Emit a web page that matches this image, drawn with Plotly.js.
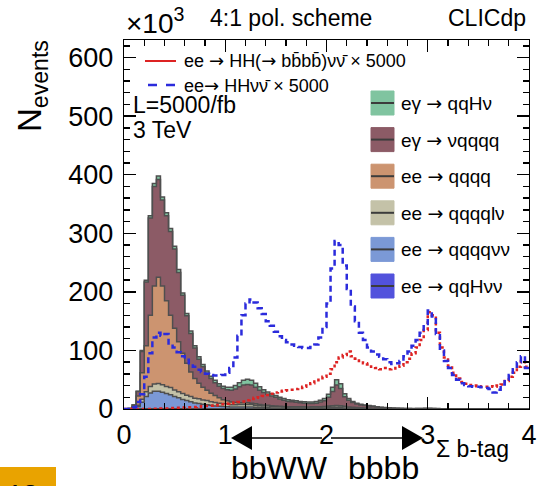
<!DOCTYPE html>
<html><head><meta charset="utf-8">
<script src="https://cdn.plot.ly/plotly-3.0.1.min.js"></script>
<style>html,body{margin:0;padding:0;background:#fff}#chart{width:543px;height:486px}</style>
</head><body><div id="chart"></div>
<script>
// bin edges of the Σ b-tag histogram
const binEdges = [0,0.04,0.08,0.12,0.16,0.2,0.24,0.28,0.32,0.36,0.4,0.44,0.48,0.52,0.56,0.6,0.64,0.68,0.72,0.76,0.8,0.84,0.88,0.92,0.96,1,1.04,1.08,1.12,1.16,1.2,1.24,1.28,1.32,1.36,1.4,1.44,1.48,1.52,1.56,1.6,1.64,1.68,1.72,1.76,1.8,1.84,1.88,1.92,1.96,2,2.04,2.08,2.12,2.16,2.2,2.24,2.28,2.32,2.36,2.4,2.44,2.48,2.52,2.56,2.6,2.64,2.68,2.72,2.76,2.8,2.84,2.88,2.92,2.96,3,3.04,3.08,3.12,3.16,3.2,3.24,3.28,3.32,3.36,3.4,3.44,3.48,3.52,3.56,3.6,3.64,3.68,3.72,3.76,3.8,3.84,3.88,3.92,3.96,4];

// stacked backgrounds (x10^3 events per bin), bottom to top
const eeQqHvv = [0,0,0,0.2,0.5,0.5,0.5,0.5,0.5,0.5, 0.5,0.5,0.4,0.4,0.4,0.3,0.3,0.3,0.3,0.3, 0.3,0.3,0.3,0.3,0.3,0.3,0.3,0.4,0.5,0.5, 0.5,0.5,0.4,0.4,0.3,0.3,0.3,0.3,0.3,0.3, 0.3,0.3,0.3,0.3,0.3,0.3,0.4,0.4,0.5,0.6, 0.8,1,1.2,1.1,0.8,0.6,0.5,0.4,0.3,0.3, 0.3,0.2,0.2,0.2,0.1,0.1,0.1,0.1,0.1,0.1, 0.1,0.1,0.1,0.1,0.2,0.2,0.1,0.1,0.1,0, 0,0,0,0,0,0,0,0,0,0, 0,0,0,0,0,0,0,0,0,0];
const eeQqqqvv = [0,0.5,1,4,11,21,27,30,30,28, 26,24,21,19,16,14,12,10,9,8, 7,6,5,4.5,4,3.5,3,3,3,3, 3,3,2.5,2,2,1.8,1.6,1.5,1.4,1.3, 1.2,1.1,1,1,1,1,1,1,1,1.1, 1.2,1.3,1.3,1.2,1,0.8,0.6,0.5,0.4,0.3, 0.3,0.2,0.2,0.2,0.1,0.1,0.1,0.1,0.1,0.1, 0,0,0,0,0,0,0,0,0,0, 0,0,0,0,0,0,0,0,0,0, 0,0,0,0,0,0,0,0,0,0];
const eeQqqqlv = [0,0,0.5,2,5,8,11,12,13,13, 12,12,11,10,10,9,9,8,8,7, 7,6,6,5,5,5,4,4,4,4, 4,4,3.5,3,3,3,2.5,2.5,2.5,2.2, 2,2,2,2,2,2,2,2,2.2,2.4, 2.8,3,3.2,3,2.5,2,1.6,1.3,1.1,1, 0.8,0.7,0.6,0.5,0.4,0.3,0.3,0.2,0.2,0.2, 0.2,0.2,0.2,0.2,0.2,0.2,0.2,0.1,0.1,0, 0,0,0,0,0,0,0,0,0,0, 0,0,0,0,0,0,0,0,0,0];
const eeQqqq = [0,0.5,2.5,16,45.5,78.5,121.5,167.5,181.5,168.5, 146.5,123.5,105.6,85.6,68.6,54.7,41.7,33.7,26.7,21.7, 17.7,14.7,11.7,9.2,6.7,5.2,4.7,3.6,3,3, 3,2.5,2.6,2.1,1.7,1.4,1.1,0.7,0.6,0.5, 0.5,0.5,0.5,0.4,0.4,0.3,0.3,0.3,0.3,0.3, 0.3,0.3,0.3,0.3,0.2,0.2,0.2,0.2,0.2,0.2, 0.2,0.2,0.1,0.1,0.1,0.1,0.1,0.1,0.1,0.1, 0.1,0,0,0,0,0,0,0,0,0, 0,0,0,0,0,0,0,0,0,0, 0,0,0,0,0,0,0,0,0,0];
const egVqqqq = [0,0,3,7.5,36,109,166,170,167,147, 145,143,135,118,99,81,66,52,41,35, 29,25,22,20,19,19,20,23,27.5,30.5, 31.5,31,28,24.5,21,18.5,16.5,15,12.2,10.7, 9,8.6,7.7,6.8,6.3,5.9,5.8,6.3,8,9.6, 14.9,24.4,35,29.4,16.5,11.4,8.1,6.1,5,4.2, 3.6,3,2.3,1.7,1.5,1.1,0.8,0.6,0.4,0.3, 0.3,0.3,0.4,0.4,0.5,0.5,0.4,0.3,0.2,0, 0,0,0,0,0,0,0,0,0,0, 0,0,0,0,0,0,0,0,0,0];
const egQqHv = [0,0,0,0.5,2,3,4,5,6,5, 5,5,5,5,4,4,4,4,4,4, 4,4,4,4,4,4,5,6,7,8, 9,8,7,6,5,4,4,3,3,3, 3,2.5,2.5,2.5,2.5,2.5,2.5,3,3,4, 5,7,9,8,5,3,2,1.5,1,1, 0.8,0.7,0.6,0.5,0.4,0.3,0.3,0.2,0.2,0.2, 0.2,0.2,0.2,0.3,0.3,0.3,0.3,0.2,0.2,0, 0,0,0,0,0,0,0,0,0,0, 0,0,0,0,0,0,0,0,0,0];

// signal curves (scaled x5000)
const hhBbbbVv = [0,0,0,0,0,0,0,0.5,0.5,1, 1,1.5,1.5,2,2.5,3,3,3.5,4,4.5, 5,5.5,6,7,8,9,10,11,12,13, 15,17,19,20,22,24,26,28,30,31, 32,33,34,36,38,40,44,47,50,55, 60,68,80,88,92,98,90,86,82,78, 76,72,70,68,70,68,69,72,74,80, 86,95,105,118,135,165,160,130,105,88, 74,62,52,46,43,41,40,39,38,38, 39,38,40,42,48,55,62,72,82,72];
const hhVv = [0,0,3,12,25,55,95,122,130,125, 128,112,105,97,90,84,78,72,67,63, 60,58,57,57,58,62,70,88,125,160, 180,187,182,172,162,150,142,132,124,118, 114,110,108,106,104,104,106,110,122,140, 180,240,287,280,245,205,175,150,130,118, 105,98,93,89,85,80,77,78,82,90, 98,108,118,130,145,168,158,128,100,82, 70,58,50,44,41,39,38,38,37,36, 34,28,33,42,50,58,68,80,90,70];

const xTickVals = [0,1,2,3,4];
const xTickText = ['0','1','2','3','4'];
const yTickVals = [0,100,200,300,400,500,600];
const yTickText = ['0','100','200','300','400','500','600'];

const AR = '<span style="font-family:DejaVu Sans">\u2192</span>';
const stackNames = ['ee '+AR+' qqH\u03bd\u03bd','ee '+AR+' qqqq\u03bd\u03bd','ee '+AR+' qqqql\u03bd','ee '+AR+' qqqq','e\u03b3 '+AR+' \u03bdqqqq','e\u03b3 '+AR+' qqH\u03bd'];
const stackValues = [eeQqHvv, eeQqqqvv, eeQqqqlv, eeQqqq, egVqqqq, egQqHv];
const stackColors = ['#5252dc','#7b99d6','#c4c2a8','#cc9470','#8c5b66','#80c4a0'];
const signalNames = ['ee '+AR+' HH('+AR+' bb\u0304bb\u0304)\u03bd\u03bd\u0304 \u00d7 5000','ee'+AR+' HH\u03bd\u03bd\u0304 \u00d7 5000'];
const signalColors = ['#dd2323','#2b2bdc'];

function stepY(v){ return v.concat([v[v.length-1]]); }

const traces = [];
stackValues.forEach((vals,k)=>{
  traces.push({type:'scatter', mode:'lines', x: binEdges, y: stepY(vals), stackgroup:'bkg',
    line:{shape:'hv', color:'#4f4f4f', width:1.5}, fillcolor: stackColors[k], name: stackNames[k],
    showlegend:false, hoverinfo:'skip'});
});
traces.push({type:'scatter', mode:'lines', x: binEdges, y: stepY(hhBbbbVv), name: signalNames[0],
  line:{shape:'hv', color: signalColors[0], width:2.5, dash:'dot'}, showlegend:false});
traces.push({type:'scatter', mode:'lines', x: binEdges, y: stepY(hhVv), name: signalNames[1],
  line:{shape:'hv', color: signalColors[1], width:2.5, dash:'6px,4px'}, showlegend:false});

// pixel -> paper helpers (plot area 124..529 x 40..409)
const PL=124, PW=405, PT=40, PH=369;
const px = x => (x-PL)/PW;
const py = y => (PT+PH-y)/PH;

const font = 'Liberation Sans, Arial, Helvetica, sans-serif';
const ann = [];
const shapes = [];
function txt(t, x, y, size, xa, extra){
  ann.push(Object.assign({text:t, x:px(x), y:py(y), xref:'paper', yref:'paper', showarrow:false,
    xanchor: xa||'center', yanchor:'middle', font:{family:font, size:size, color:'black'}}, extra||{}));
}
txt('\u00d710<sup>3</sup>', 124, 21, 28, 'left');
txt('4:1 pol. scheme', 291, 18, 23);
txt('CLICdp', 528, 18, 23, 'right');
txt('L=5000/fb', 131, 105, 23, 'left');
txt('3 TeV', 131, 130, 23, 'left');
txt('N<sub>events</sub>', 32, 86, 33, 'center', {textangle:-90});
txt('\u03a3 b-tag', 511, 449, 23, 'right');
txt('bbWW', 279, 468, 32);
txt('bbbb', 383, 468, 32);

// line legend
const lineRows = [61, 85];
signalNames.forEach((n,k)=>{
  shapes.push({type:'line', xref:'paper', yref:'paper', x0:px(k?148:145), x1:px(176), y0:py(lineRows[k]), y1:py(lineRows[k]),
    line:{color:signalColors[k], width: k?2.5:2, dash: k?'dash':'solid'}});
  txt(n, 182, lineRows[k], 18, 'left');
});
// fill legend (top to bottom: reverse stack order)
for (let r=0; r<6; r++){
  const k = 5-r;
  const yc = 103 + r*36.6;
  shapes.push({type:'rect', xref:'paper', yref:'paper', x0:px(371), x1:px(394), y0:py(yc+12), y1:py(yc-12),
    fillcolor:stackColors[k], line:{color:stackColors[k], width:1}});
  shapes.push({type:'line', xref:'paper', yref:'paper', x0:px(371), x1:px(394), y0:py(yc), y1:py(yc),
    line:{color:'#3c3c3c', width:2}});
  txt(stackNames[k], 399, yc, 19, 'left');
}
// arrows bbWW <- -> bbbb
shapes.push({type:'line', xref:'paper', yref:'paper', x0:px(250), x1:px(322), y0:py(438), y1:py(438), line:{color:'black', width:1.3}});
shapes.push({type:'line', xref:'paper', yref:'paper', x0:px(331), x1:px(404), y0:py(438), y1:py(438), line:{color:'black', width:1.3}});
shapes.push({type:'path', xref:'paper', yref:'paper', path:`M${px(231)},${py(438)} L${px(252)},${py(426)} L${px(252)},${py(450)} Z`, fillcolor:'black', line:{width:0}});
shapes.push({type:'path', xref:'paper', yref:'paper', path:`M${px(423)},${py(438)} L${px(402)},${py(426)} L${px(402)},${py(450)} Z`, fillcolor:'black', line:{width:0}});
// page badge bottom-left
shapes.push({type:'rect', xref:'paper', yref:'paper', x0:px(0), x1:px(56), y0:py(486), y1:py(467), fillcolor:'#e9a300', line:{width:0}, layer:'below'});
txt('13', 22, 494, 28);

const axisCommon = {ticks:'inside', ticklen:12, tickwidth:1.3, tickcolor:'black', showline:true, linecolor:'black', linewidth:1.3,
  mirror:'allticks', showgrid:false, zeroline:false, tickfont:{family:font, size:27, color:'black'}, tickmode:'array'};

const layout = {
  width:543, height:486, margin:{l:124, r:14, t:40, b:77},
  paper_bgcolor:'white', plot_bgcolor:'white', showlegend:false,
  font:{family:font, color:'black'},
  xaxis: Object.assign({}, axisCommon, {range:[0,4], tickvals:xTickVals, ticktext:xTickText, ticklabelstandoff:1,
    minor:{tickmode:'linear', tick0:0, dtick:0.2, ticks:'inside', ticklen:6, tickwidth:1.3, tickcolor:'black', showgrid:false}}),
  yaxis: Object.assign({}, axisCommon, {range:[0,630], tickvals:yTickVals, ticktext:yTickText, ticklabelstandoff:4,
    minor:{tickmode:'linear', tick0:0, dtick:20, ticks:'inside', ticklen:6, tickwidth:1.3, tickcolor:'black', showgrid:false}}),
  annotations: ann, shapes: shapes
};
Plotly.newPlot('chart', traces, layout, {staticPlot:true, displayModeBar:false});
</script></body></html>
